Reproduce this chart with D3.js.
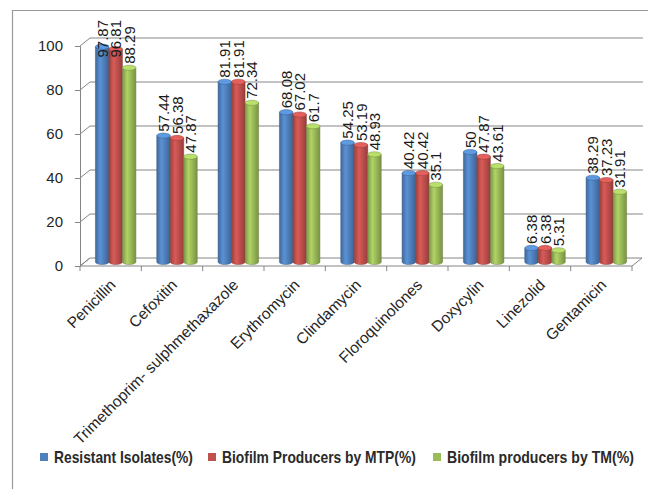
<!DOCTYPE html>
<html>
<head>
<meta charset="utf-8">
<script src="https://cdn.jsdelivr.net/npm/d3@7"></script>
<style>
    html, body { margin: 0; padding: 0; background: #ffffff; }
    svg { display: block; }
</style>
</head>
<body>
<div id="chart"></div>
<script>
    "use strict";

    const categories = ["Penicillin", "Cefoxitin", "Trimethoprim- sulphmethaxazole", "Erythromycin",
        "Clindamycin", "Floroquinolones", "Doxycylin", "Linezolid", "Gentamicin"];
    const seriesNames = ["Resistant Isolates(%)", "Biofilm Producers by MTP(%)", "Biofilm producers by TM(%)"];
    const resistant = [97.87, 57.44, 81.91, 68.08, 54.25, 40.42, 50, 6.38, 38.29];
    const mtp = [96.81, 56.38, 81.91, 67.02, 53.19, 40.42, 47.87, 6.38, 37.23];
    const tm = [88.29, 47.87, 72.34, 61.7, 48.93, 35.1, 43.61, 5.31, 31.91];
    const yTicks = [0, 20, 40, 60, 80, 100];

    const seriesValues = [resistant, mtp, tm];
    const colors = ["#4f81bd", "#c0504d", "#9bbb59"];

    const width = 648;
    const height = 489;
    const depthX = 10;
    const depthY = -8;
    const font = "'Liberation Sans', Arial, sans-serif";

    const svg = d3.select("#chart")
        .append("svg")
        .attr("width", width)
        .attr("height", height);

    // cylinder shading, one gradient per series
    const defs = svg.append("defs");
    colors.forEach((c, i) => {
        const base = d3.color(c);
        const g = defs.append("linearGradient")
            .attr("id", `cyl${i}`)
            .attr("x1", "0").attr("x2", "1").attr("y1", "0").attr("y2", "0");
        g.append("stop").attr("offset", "0%").attr("stop-color", base.darker(0.6));
        g.append("stop").attr("offset", "35%").attr("stop-color", base.brighter(0.35));
        g.append("stop").attr("offset", "100%").attr("stop-color", base.darker(0.7));
    });

    // outer frame
    svg.append("path")
        .attr("d", `M12.5,${height}V10.5H${width}`)
        .attr("fill", "none")
        .attr("stroke", "#9a9a9a")
        .attr("stroke-width", 1.2);

    const x = d3.scaleBand()
        .domain(categories)
        .range([80, 632]);

    const y = d3.scaleLinear()
        .domain([0, 100])
        .range([266, 46]);

    const groupWidth = 40.5;
    const xs = d3.scaleBand()
        .domain(d3.range(seriesNames.length))
        .range([0, groupWidth]);

    // back wall gridlines
    svg.append("g")
        .selectAll("line")
        .data(yTicks.slice(1))
        .join("line")
        .attr("x1", 80 + depthX)
        .attr("x2", 643)
        .attr("y1", (d) => y(d) + depthY)
        .attr("y2", (d) => y(d) + depthY)
        .attr("stroke", "#858585")
        .attr("stroke-width", 1.1);

    // side wall diagonals
    svg.append("g")
        .selectAll("line")
        .data(yTicks)
        .join("line")
        .attr("x1", 80)
        .attr("x2", 80 + depthX)
        .attr("y1", (d) => y(d))
        .attr("y2", (d) => y(d) + depthY)
        .attr("stroke", "#858585");

    // floor
    const x0 = x.range()[0];
    const x1 = x.range()[1];
    svg.append("path")
        .attr("d", `M${x0},${y(0)}H${x1}L${x1 + depthX},${y(0) + depthY}H${x0 + depthX}Z`)
        .attr("fill", "none")
        .attr("stroke", "#858585");

    // category boundary ticks
    svg.append("g")
        .selectAll("line")
        .data(categories.map((c) => x(c)).concat([x1]))
        .join("line")
        .attr("x1", (d) => d)
        .attr("x2", (d) => d)
        .attr("y1", y(0))
        .attr("y2", y(0) + 5)
        .attr("stroke", "#858585");

    // y axis
    const yAxis = svg.append("g")
        .attr("transform", "translate(80,0)")
        .call(d3.axisLeft(y).tickValues(yTicks).tickSize(5).tickPadding(12));
    yAxis.select(".domain").attr("stroke", "#858585");
    yAxis.selectAll(".tick line").attr("stroke", "#858585");
    yAxis.selectAll(".tick text")
        .attr("fill", "#262626")
        .style("font", `15px ${font}`);

    // bars as cylinders, placed half way into the depth
    const barData = [];
    categories.forEach((c, ci) => {
        seriesValues.forEach((vals, si) => {
            barData.push({ category: c, series: si, value: vals[ci] });
        });
    });

    const bw = xs.bandwidth();
    const ry = 2.6;
    const barX = (d) => x(d.category) + (x.bandwidth() - groupWidth) / 2 + depthX / 2 + xs(d.series);
    const barTop = (d) => y(d.value) + depthY / 2;
    const barBase = y(0) + depthY / 2;

    const bars = svg.append("g")
        .selectAll("g")
        .data(barData)
        .join("g");

    bars.append("path")
        .attr("d", (d) => {
            const left = barX(d);
            const right = left + bw;
            const top = barTop(d);
            return `M${left},${top}V${barBase}A${bw / 2},${ry} 0 0 0 ${right},${barBase}V${top}Z`;
        })
        .attr("fill", (d) => `url(#cyl${d.series})`)
        .attr("stroke", (d) => d3.color(colors[d.series]).darker(1))
        .attr("stroke-width", 0.5);

    bars.append("ellipse")
        .attr("cx", (d) => barX(d) + bw / 2)
        .attr("cy", (d) => barTop(d))
        .attr("rx", bw / 2)
        .attr("ry", ry)
        .attr("fill", (d) => d3.color(colors[d.series]).brighter(0.5))
        .attr("stroke", (d) => d3.color(colors[d.series]).darker(0.8))
        .attr("stroke-width", 0.5);

    // value labels, rotated; pushed down into the bar when they would pass the top
    const labelTopLimit = 20;
    bars.append("text")
        .attr("fill", "#1a1a1a")
        .style("font", `15px ${font}`)
        .text((d) => d.value)
        .each(function (d) {
            const len = this.getComputedTextLength();
            const start = Math.max(barTop(d) - 4, labelTopLimit + len);
            d3.select(this).attr("transform", `translate(${barX(d) + bw / 2 + 5.5},${start}) rotate(-90)`);
        });

    // category labels at 45 degrees
    svg.append("g")
        .selectAll("text")
        .data(categories)
        .join("text")
        .attr("transform", (d) => `translate(${x(d) + x.bandwidth() / 2 + 6},${y(0) + 20}) rotate(-45)`)
        .attr("text-anchor", "end")
        .attr("fill", "#262626")
        .style("font", `15.5px ${font}`)
        .text((d) => d);

    // legend
    const legendX = [40, 208, 433];
    const legendTextWidth = [139, 194, 187];
    const legend = svg.append("g")
        .selectAll("g")
        .data(seriesNames)
        .join("g")
        .attr("transform", (d, i) => `translate(${legendX[i]},453)`);

    legend.append("rect")
        .attr("width", 8)
        .attr("height", 8)
        .attr("fill", (d, i) => colors[i]);

    legend.append("text")
        .attr("fill", "#2a2a2a")
        .style("font", `bold 16px ${font}`)
        .text((d) => d)
        .each(function (d, i) {
            const len = this.getComputedTextLength();
            const k = legendTextWidth[i] / len;
            d3.select(this).attr("transform", `translate(14,10) scale(${k},1)`);
        });
</script>
</body>
</html>
